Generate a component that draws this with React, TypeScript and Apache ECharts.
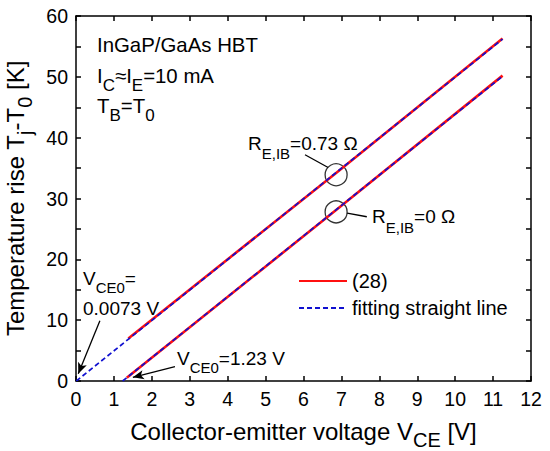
import React, { useEffect, useRef } from "react";
import * as echarts from "echarts";

// ---- data ----
const upperModelX = [1.38, 6.86, 11.25];
const upperModelY = [7.0, 34.2, 56.3];
const upperFitX = [0.0073, 11.25];
const upperFitY = [0, 56.2];
const lowerModelX = [1.34, 6.86, 11.25];
const lowerModelY = [0.55, 28.1, 50.2];
const lowerFitX = [1.23, 11.25];
const lowerFitY = [0, 50.1];

const circleX = [6.86, 6.86];
const circleY = [33.9, 27.8];

const FONT = "'Liberation Sans', Arial, sans-serif";

const zip = (xs: number[], ys: number[]) => xs.map((x, i) => [x, ys[i]]);

const sub = (size: number, lh: number) => ({
  fontSize: size,
  lineHeight: lh,
  verticalAlign: "bottom",
  fontFamily: FONT,
  color: "#000",
});

function txt(x: number, y: number, text: string, size: number, subSize: number, lh: number) {
  return {
    type: "text",
    x,
    y,
    silent: true,
    style: {
      text,
      fontSize: size,
      fontFamily: FONT,
      fill: "#000",
      lineHeight: lh,
      align: "left",
      verticalAlign: "middle",
      rich: {
        s: {
          fontSize: subSize,
          lineHeight: subSize,
          verticalAlign: "bottom",
          fontFamily: FONT,
          fill: "#000",
        },
      },
    },
  };
}

export default function App() {
  const ref = useRef<HTMLDivElement>(null);
  useEffect(() => {
    document.body.style.margin = "0";
    if (!ref.current) return;
    const chart = echarts.init(ref.current, undefined, { renderer: "svg" });
    const axisLine = { onZero: false, lineStyle: { color: "#000", width: 1.5 } };
    const tick = { inside: true, length: 5, lineStyle: { color: "#000", width: 1.5 } };
    const option: any = {
      animation: false,
      backgroundColor: "#fff",
      grid: { left: 76, right: 19, top: 16, bottom: 70, containLabel: false, outerBoundsMode: "none" },
      legend: {
        orient: "vertical",
        left: 293,
        top: 266,
        itemWidth: 48,
        itemHeight: 14,
        itemGap: 7,
        data: ["(28)", "fitting straight line"],
        textStyle: { fontSize: 20, color: "#000", fontFamily: FONT },
        itemStyle: { opacity: 0 },
        selectedMode: false,
      },
      xAxis: [
        {
          type: "value",
          min: 0,
          max: 12,
          interval: 1,
          position: "bottom",
          axisLine,
          axisTick: tick,
          splitLine: { show: false },
          axisLabel: { fontSize: 19.5, color: "#000", fontFamily: FONT, margin: 8 },
          name: "Collector-emitter voltage V{s|CE} [V]",
          nameLocation: "middle",
          nameGap: 28.5,
          nameTextStyle: {
            fontSize: 24,
            color: "#000",
            fontFamily: FONT,
            lineHeight: 36,
            rich: { s: sub(20, 16) },
          },
        },
        {
          type: "value",
          min: 0,
          max: 12,
          interval: 1,
          position: "top",
          axisLine,
          axisTick: tick,
          splitLine: { show: false },
          axisLabel: { show: false },
        },
      ],
      yAxis: [
        {
          type: "value",
          min: 0,
          max: 60,
          interval: 10,
          position: "left",
          axisLine,
          axisTick: tick,
          minorTick: { show: true, splitNumber: 2, length: 5, lineStyle: { color: "#000", width: 1.5 } },
          splitLine: { show: false },
          minorSplitLine: { show: false },
          axisLabel: { fontSize: 19.5, color: "#000", fontFamily: FONT, margin: 8 },
          name: "Temperature rise T{s|j}-T{s|0} [K]",
          nameLocation: "middle",
          nameGap: 34,
          nameTextStyle: {
            fontSize: 24,
            color: "#000",
            fontFamily: FONT,
            lineHeight: 39,
            rich: { s: sub(20, 20) },
          },
        },
        {
          type: "value",
          min: 0,
          max: 60,
          interval: 5,
          position: "right",
          axisLine,
          axisTick: tick,
          splitLine: { show: false },
          axisLabel: { show: false },
        },
      ],
      series: [
        {
          name: "(28)",
          type: "line",
          data: zip(upperModelX, upperModelY),
          symbol: "none",
          lineStyle: { color: "#ff1010", width: 2.6 },
          itemStyle: { color: "#ff1010" },
        },
        {
          name: "(28)",
          type: "line",
          data: zip(lowerModelX, lowerModelY),
          symbol: "none",
          lineStyle: { color: "#ff1010", width: 2.6 },
          itemStyle: { color: "#ff1010" },
        },
        {
          name: "fitting straight line",
          type: "line",
          data: zip(upperFitX, upperFitY),
          symbol: "none",
          lineStyle: { color: "#1010d0", width: 1.7, type: [5, 3] },
          itemStyle: { color: "#1010d0" },
        },
        {
          name: "fitting straight line",
          type: "line",
          data: zip(lowerFitX, lowerFitY),
          symbol: "none",
          lineStyle: { color: "#1010d0", width: 1.7, type: [5, 3] },
          itemStyle: { color: "#1010d0" },
        },
        {
          name: "marks",
          type: "scatter",
          data: zip(circleX, circleY),
          symbol: "circle",
          symbolSize: 22,
          silent: true,
          itemStyle: { color: "rgba(0,0,0,0)", borderColor: "#000", borderWidth: 1.3 },
          markLine: {
            silent: true,
            animation: false,
            label: { show: false },
            lineStyle: { color: "#000", width: 1.3, type: "solid" },
            symbolSize: [7, 11],
            data: [
              [
                { coord: [0.63, 9.9], symbol: "none" },
                { coord: [0.06, 1.2], symbol: "arrow" },
              ],
              [
                { coord: [2.61, 2.35], symbol: "none" },
                { coord: [1.5, 0.6], symbol: "arrow" },
              ],
              [
                { coord: [6.04, 37.2], symbol: "none" },
                { coord: [6.65, 35.1], symbol: "none" },
              ],
              [
                { coord: [7.15, 27.6], symbol: "none" },
                { coord: [7.67, 27.0], symbol: "none" },
              ],
            ],
          },
        },
      ],
      graphic: [
        txt(97, 45.4, "InGaP/GaAs HBT", 20.4, 17, 21),
        txt(97, 76, "I{s|C}≈I{s|E}=10 mA", 20.4, 17, 36),
        txt(97, 106, "T{s|B}=T{s|0}", 20.4, 17, 36),
        txt(248, 143.4, "R{s|E,IB}=0.73 Ω", 19, 15, 36),
        txt(372, 216.7, "R{s|E,IB}=0 Ω", 19, 15, 36),
        txt(83, 278.4, "V{s|CE0}=", 19, 15, 33),
        txt(83, 308.4, "0.0073 V", 19, 15, 19),
        txt(177, 358.5, "V{s|CE0}=1.23 V", 19, 15, 33),
      ],
    };
    chart.setOption(option);
    return () => chart.dispose();
  }, []);
  return <div ref={ref} style={{ width: 550, height: 451 }} />;
}
